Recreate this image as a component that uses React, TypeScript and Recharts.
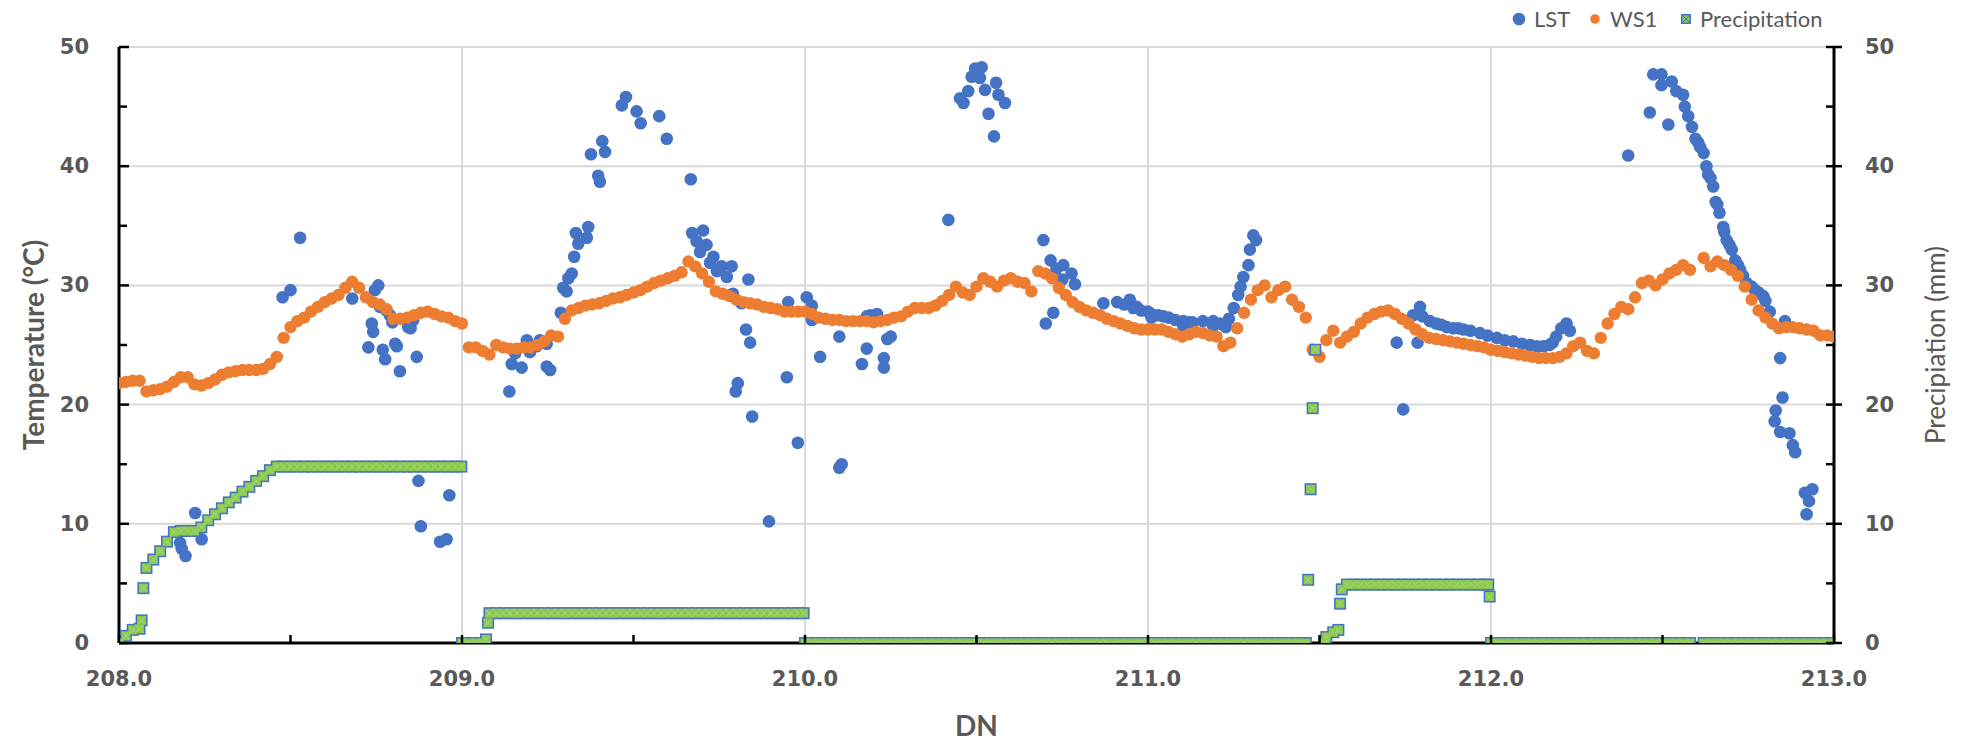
import { CartesianGrid, Legend, Scatter, ScatterChart, XAxis, YAxis } from "recharts";

// WS1 air temperature, one reading every 0.02 day, one array per day
const ws1Day208 = [
  21.8, 21.9, 22.0, 22.0, 21.1, 21.2, 21.3, 21.5, 21.9, 22.3,
  22.3, 21.7, 21.6, 21.8, 22.1, 22.5, 22.7, 22.8, 22.9, 22.9,
  22.9, 23.0, 23.4, 24.0, 25.6, 26.5, 27.0, 27.3, 27.8, 28.2,
  28.6, 28.9, 29.2, 29.8, 30.3, 29.8, 29.0, 28.6, 28.4, 28.0,
  27.2, 27.2, 27.3, 27.5, 27.7, 27.8, 27.6, 27.4, 27.3, 27.0,
];
const ws1Day209 = [
  26.8, 24.8, 24.8, 24.5, 24.2, 25.0, 24.8, 24.7, 24.7, 24.8,
  24.8, 25.0, 25.3, 25.8, 25.7, 27.2, 27.9, 28.1, 28.3, 28.4,
  28.5, 28.7, 28.9, 29.0, 29.2, 29.4, 29.6, 29.9, 30.2, 30.4,
  30.6, 30.8, 31.1, 32.0, 31.6, 31.0, 30.3, 29.5, 29.3, 29.1,
  28.8, 28.6, 28.5, 28.4, 28.2, 28.1, 28.0, 27.8, 27.8, 27.8,
];
const ws1Day210 = [
  27.8, 27.6, 27.3, 27.2, 27.1, 27.1, 27.0, 27.0, 27.0, 27.0,
  26.9, 27.0, 27.1, 27.3, 27.4, 27.8, 28.1, 28.1, 28.1, 28.3,
  28.7, 29.2, 29.9, 29.4, 29.2, 29.9, 30.6, 30.3, 29.9, 30.4,
  30.6, 30.3, 30.2, 29.5, 31.2, 31.0, 30.6, 29.8, 29.2, 28.6,
  28.2, 27.9, 27.7, 27.5, 27.2, 27.0, 26.8, 26.6, 26.4, 26.3,
];
const ws1Day211 = [
  26.3, 26.3, 26.3, 26.1, 25.9, 25.7, 25.9, 26.1, 26.0, 25.8,
  25.7, 24.9, 25.2, 26.4, 27.7, 28.8, 29.6, 30.0, 29.0, 29.6,
  29.9, 28.8, 28.2, 27.3, 24.6, 24.0, 25.4, 26.2, 25.2, 25.7,
  26.1, 26.8, 27.3, 27.6, 27.8, 27.9, 27.6, 27.2, 26.8, 26.3,
  25.9, 25.6, 25.5, 25.4, 25.3, 25.2, 25.1, 25.0, 24.9, 24.8,
];
const ws1Day212 = [
  24.6, 24.5, 24.4, 24.3, 24.2, 24.1, 24.0, 23.9, 23.9, 23.9,
  24.0, 24.3, 24.9, 25.2, 24.5, 24.3, 25.6, 26.8, 27.6, 28.2,
  28.0, 29.0, 30.2, 30.4, 30.0, 30.5, 31.0, 31.3, 31.7, 31.3,
  null, 32.3, 31.6, 32.0, 31.7, 31.3, 30.8, 29.9, 28.8, 27.9,
  27.3, 26.8, 26.4, 26.5, 26.5, 26.4, 26.3, 26.2, 25.8, 25.8,
];
const ws1Last = 25.7;

// cumulative precipitation (mm), same 0.02 day grid
const precipDay208 = [
  0, 0.6, 1.1, 1.2, 6.3, 7.0, 7.7, 8.5, 9.3, 9.4,
  9.4, 9.4, 9.7, 10.3, 10.8, 11.3, 11.8, 12.2, 12.7, 13.1,
  13.6, 14.0, 14.5, 14.8, 14.8, 14.8, 14.8, 14.8, 14.8, 14.8,
  14.8, 14.8, 14.8, 14.8, 14.8, 14.8, 14.8, 14.8, 14.8, 14.8,
  14.8, 14.8, 14.8, 14.8, 14.8, 14.8, 14.8, 14.8, 14.8, 14.8,
];
const precipDay209 = [
  0, 0, 0, 0, 2.5, 2.5, 2.5, 2.5, 2.5, 2.5,
  2.5, 2.5, 2.5, 2.5, 2.5, 2.5, 2.5, 2.5, 2.5, 2.5,
  2.5, 2.5, 2.5, 2.5, 2.5, 2.5, 2.5, 2.5, 2.5, 2.5,
  2.5, 2.5, 2.5, 2.5, 2.5, 2.5, 2.5, 2.5, 2.5, 2.5,
  2.5, 2.5, 2.5, 2.5, 2.5, 2.5, 2.5, 2.5, 2.5, 2.5,
];
const precipDay210 = [
  0, 0, 0, 0, 0, 0, 0, 0, 0, 0,
  0, 0, 0, 0, 0, 0, 0, 0, 0, 0,
  0, 0, 0, 0, 0, 0, 0, 0, 0, 0,
  0, 0, 0, 0, 0, 0, 0, 0, 0, 0,
  0, 0, 0, 0, 0, 0, 0, 0, 0, 0,
];
const precipDay211 = [
  0, 0, 0, 0, 0, 0, 0, 0, 0, 0,
  0, 0, 0, 0, 0, 0, 0, 0, 0, 0,
  0, 0, 0, 0, null, null, 0.5, 0.9, 3.3, 4.9,
  4.9, 4.9, 4.9, 4.9, 4.9, 4.9, 4.9, 4.9, 4.9, 4.9,
  4.9, 4.9, 4.9, 4.9, 4.9, 4.9, 4.9, 4.9, 4.9, 4.9,
];
const precipDay212 = [
  0, 0, 0, 0, 0, 0, 0, 0, 0, 0,
  0, 0, 0, 0, 0, 0, 0, 0, 0, 0,
  0, 0, 0, 0, 0, 0, 0, 0, 0, 0,
  null, 0, 0, 0, 0, 0, 0, 0, 0, 0,
  0, 0, 0, 0, 0, 0, 0, 0, 0, 0,
];
const precipLast = 0;
// readings between grid steps (steps and the shower on day 211)
const precipExtra: [number, number][] = [
  [208.066, 1.9], [208.071, 4.6], [208.998, 14.8], [209.07, 0.3], [209.076, 1.7],
  [209.996, 2.5], [211.467, 5.3], [211.474, 12.9], [211.48, 19.7], [211.488, 24.6],
  [211.516, 0], [211.555, 1.1], [211.565, 4.5], [211.992, 4.9], [211.996, 3.9],
];

// LST readings: [DN, °C]
const lstPoints: [number, number][] = [
  [208.178, 8.4], [208.183, 7.9], [208.194, 7.3], [208.222, 10.9], [208.241, 8.7],
  [208.477, 29.0], [208.5, 29.6], [208.528, 34.0],
  [208.68, 28.9], [208.727, 24.8], [208.737, 26.8], [208.741, 26.1], [208.746, 29.6],
  [208.756, 30.0], [208.761, 28.2], [208.769, 24.6], [208.776, 23.8], [208.78, 27.9],
  [208.79, 27.5], [208.797, 26.9], [208.805, 25.1], [208.81, 24.9], [208.819, 22.8],
  [208.843, 26.5], [208.85, 26.4], [208.852, 27.3], [208.858, 27.1], [208.868, 24.0],
  [208.873, 13.6], [208.88, 9.8], [208.936, 8.5], [208.955, 8.7], [208.963, 12.4],
  [209.138, 21.1], [209.145, 23.4], [209.155, 24.3], [209.174, 23.1], [209.189, 25.4],
  [209.198, 24.4], [209.218, 24.9], [209.227, 25.4], [209.247, 25.1], [209.247, 23.2],
  [209.257, 22.9], [209.288, 27.7], [209.295, 29.8], [209.305, 29.5], [209.31, 30.6],
  [209.32, 31.0], [209.327, 32.4], [209.332, 34.4], [209.339, 33.5], [209.364, 34.0],
  [209.368, 34.9], [209.376, 41.0], [209.397, 39.2], [209.402, 38.7], [209.409, 42.1],
  [209.417, 41.2], [209.466, 45.1], [209.478, 45.8], [209.509, 44.6], [209.521, 43.6],
  [209.575, 44.2], [209.597, 42.3], [209.667, 38.9], [209.671, 34.4], [209.684, 33.7],
  [209.694, 32.8], [209.703, 34.6], [209.713, 33.4], [209.723, 31.9], [209.733, 32.4],
  [209.743, 31.2], [209.757, 31.6], [209.772, 30.7], [209.786, 31.6], [209.79, 29.3],
  [209.798, 21.1], [209.804, 21.8], [209.815, 28.5], [209.828, 26.3], [209.835, 30.5],
  [209.84, 25.2], [209.846, 19.0], [209.895, 10.2], [209.947, 22.3], [209.951, 28.6],
  [209.979, 16.8],
  [210.005, 29.0], [210.02, 28.3], [210.02, 27.1], [210.044, 24.0], [210.1, 25.7],
  [210.1, 14.7], [210.107, 15.0], [210.166, 23.4], [210.18, 24.7], [210.18, 27.4],
  [210.19, 27.5], [210.2, 27.4], [210.21, 27.6], [210.23, 23.9], [210.23, 23.1],
  [210.24, 25.5], [210.25, 25.7],
  [210.418, 35.5], [210.452, 45.7], [210.462, 45.3], [210.476, 46.3], [210.486, 47.5],
  [210.496, 48.2], [210.51, 47.4], [210.515, 48.3], [210.525, 46.4], [210.535, 44.4],
  [210.551, 42.5], [210.557, 47.0], [210.564, 46.0], [210.583, 45.3],
  [210.695, 33.8], [210.702, 26.8], [210.716, 32.1], [210.724, 27.7], [210.733, 31.4],
  [210.75, 30.5], [210.753, 31.7], [210.777, 31.0], [210.787, 30.1],
  [210.87, 28.5], [210.91, 28.6], [210.93, 28.4], [210.947, 28.8], [210.957, 28.1],
  [210.967, 28.2], [210.98, 27.9], [211.0, 27.8],
  [211.01, 27.6], [211.01, 27.3], [211.03, 27.5], [211.045, 27.4], [211.06, 27.3],
  [211.08, 27.1], [211.103, 27.0], [211.103, 26.6], [211.12, 26.9], [211.13, 26.9],
  [211.16, 27.0], [211.19, 27.0], [211.19, 26.6], [211.21, 26.8], [211.22, 26.7],
  [211.227, 26.5], [211.236, 27.2], [211.25, 28.1], [211.263, 29.2], [211.27, 29.9],
  [211.278, 30.7], [211.293, 31.7], [211.297, 33.0], [211.307, 34.2], [211.315, 33.8],
  [211.725, 25.2], [211.744, 19.6], [211.773, 27.5], [211.786, 25.2], [211.793, 28.2],
  [211.8, 27.4], [211.822, 27.0], [211.84, 26.8], [211.855, 26.7], [211.871, 26.5],
  [211.89, 26.4], [211.905, 26.4], [211.92, 26.3], [211.94, 26.2], [211.968, 26.0],
  [211.99, 25.8],
  [212.017, 25.6], [212.04, 25.4], [212.065, 25.3], [212.09, 25.1], [212.114, 25.0],
  [212.135, 24.9], [212.153, 24.9], [212.17, 25.0], [212.18, 25.2], [212.19, 25.7],
  [212.205, 26.4], [212.22, 26.8], [212.23, 26.2],
  [212.4, 40.9], [212.463, 44.5], [212.473, 47.7], [212.497, 47.7], [212.497, 46.8],
  [212.517, 43.5], [212.527, 47.1], [212.54, 46.3], [212.56, 46.0], [212.565, 45.0],
  [212.575, 44.2], [212.586, 43.3], [212.596, 42.3], [212.604, 42.0], [212.61, 41.6],
  [212.62, 41.1], [212.628, 40.0], [212.633, 39.3], [212.64, 39.0], [212.648, 38.3],
  [212.655, 37.0], [212.66, 36.8], [212.666, 36.1], [212.677, 34.9], [212.68, 34.5],
  [212.687, 33.8], [212.695, 33.4], [212.702, 33.0], [212.712, 32.1], [212.72, 31.7],
  [212.726, 31.3], [212.735, 30.8], [212.745, 30.2], [212.76, 29.9], [212.77, 29.6],
  [212.78, 29.4], [212.794, 29.1], [212.8, 28.7], [212.813, 27.8], [212.857, 27.0],
  [212.843, 23.9], [212.85, 20.6], [212.83, 19.5], [212.827, 18.6], [212.843, 17.7],
  [212.87, 17.6], [212.88, 16.6], [212.887, 16.0], [212.915, 12.6], [212.937, 12.9],
  [212.927, 11.9], [212.92, 10.8],
];

const FIRST_DAY = 208;
const STEP = 0.02;
const X_TICKS = [208, 208.5, 209, 209.5, 210, 210.5, 211, 211.5, 212, 212.5, 213];
const Y_TICKS = [0, 5, 10, 15, 20, 25, 30, 35, 40, 45, 50];

const GREY = "#595959";
const TICK_FONT = "'DejaVu Sans', Verdana, sans-serif";
const TITLE_FONT = "Lato, 'Open Sans', sans-serif";

type Pt = { x: number; y: number };

function onGrid(days: (number | null)[][], last: number): Pt[] {
  const out: Pt[] = [];
  days.forEach((vals, d) =>
    vals.forEach((v, i) => {
      if (v !== null) out.push({ x: +(FIRST_DAY + d + i * STEP).toFixed(2), y: v });
    })
  );
  out.push({ x: FIRST_DAY + days.length, y: last });
  return out;
}

const ws1Data = onGrid([ws1Day208, ws1Day209, ws1Day210, ws1Day211, ws1Day212], ws1Last);
const precipData = [
  ...onGrid([precipDay208, precipDay209, precipDay210, precipDay211, precipDay212], precipLast),
  ...precipExtra.map(([x, y]) => ({ x, y })),
];
const lstData = lstPoints.map(([x, y]) => ({ x, y }));

function XTick({ x, y, payload }: any) {
  const v = payload.value as number;
  const major = Number.isInteger(v);
  return (
    <g>
      <line x1={x} x2={x} y1={y} y2={y - 8} stroke="#000" strokeWidth={2.5} />
      {major && (
        <text x={x} y={y + 36} textAnchor="middle" dominantBaseline="central"
          fontFamily={TICK_FONT} fontWeight="bold" fontSize={21} fill={GREY}>
          {v.toFixed(1)}
        </text>
      )}
    </g>
  );
}

function LeftTick({ x, y, payload }: any) {
  const v = payload.value as number;
  const major = v % 10 === 0;
  return (
    <g>
      <line x1={x} x2={x + (major ? 10 : 8)} y1={y} y2={y} stroke="#000" strokeWidth={2.5} />
      {major && (
        <text x={x - 30} y={y} textAnchor="end" dominantBaseline="central"
          fontFamily={TICK_FONT} fontWeight="bold" fontSize={21} fill={GREY}>
          {v}
        </text>
      )}
    </g>
  );
}

function RightTick({ x, y, payload }: any) {
  const v = payload.value as number;
  const major = v % 10 === 0;
  return (
    <g>
      <line x1={x - 8} x2={major ? x + 8 : x} y1={y} y2={y} stroke="#000" strokeWidth={2.5} />
      {major && (
        <text x={x + 31} y={y} textAnchor="start" dominantBaseline="central"
          fontFamily={TICK_FONT} fontWeight="bold" fontSize={21} fill={GREY}>
          {v}
        </text>
      )}
    </g>
  );
}

const lstDot = (p: any) => <circle cx={p.cx} cy={p.cy} r={6.3} fill="#4472C4" />;
const ws1Dot = (p: any) => <circle cx={p.cx} cy={p.cy} r={6.2} fill="#ED7D31" />;

// precipitation marker drawn in two layers so that a run of markers reads as one band
const precipEdge = (p: any) => (
  <rect x={p.cx - 6} y={p.cy - 6} width={12} height={12} fill="#4472C4" />
);
const precipFill = (p: any) => (
  <g>
    <rect x={p.cx - 4.5} y={p.cy - 4.5} width={9} height={9} fill="#8CC94F" />
    <path d={`M${p.cx - 3.5},${p.cy - 3.5}L${p.cx + 3.5},${p.cy + 3.5}M${p.cx + 3.5},${p.cy - 3.5}L${p.cx - 3.5},${p.cy + 3.5}`}
      stroke="#A9D97A" strokeWidth={1} />
  </g>
);

function LegendBox() {
  const label = { position: "absolute" as const, top: 0, lineHeight: "22px", fontSize: 22, color: GREY, fontFamily: TITLE_FONT };
  return (
    <div style={{ position: "relative", width: 340, height: 24 }}>
      <svg width={200} height={24} style={{ position: "absolute", left: 0, top: 0 }}>
        <circle cx={11} cy={11} r={6.3} fill="#4472C4" />
        <circle cx={87} cy={11} r={4.8} fill="#ED7D31" />
        <rect x={173} y={6} width={10} height={10} fill="#4472C4" />
        <rect x={174.5} y={7.5} width={7} height={7} fill="#8CC94F" />
        <path d="M175,8L181,14M181,8L175,14" stroke="#4472C4" strokeWidth={1} />
      </svg>
      <span style={{ ...label, left: 26 }}>LST</span>
      <span style={{ ...label, left: 102 }}>WS1</span>
      <span style={{ ...label, left: 192 }}>Precipitation</span>
    </div>
  );
}

const leftTitle = ({ viewBox }: any) => {
  const cx = viewBox.x - 6;
  const cy = viewBox.y + viewBox.height / 2;
  return (
    <text x={cx} y={cy} transform={`rotate(-90, ${cx}, ${cy})`} textAnchor="middle" dominantBaseline="central"
      fontFamily={TITLE_FONT} fontWeight="bold" fontSize={28} fill={GREY}>
      Temperature (°C)
    </text>
  );
};

const rightTitle = ({ viewBox }: any) => {
  const cx = viewBox.x + viewBox.width + 1;
  const cy = viewBox.y + viewBox.height / 2;
  return (
    <text x={cx} y={cy} transform={`rotate(-90, ${cx}, ${cy})`} textAnchor="middle" dominantBaseline="central"
      fontFamily={TITLE_FONT} fontSize={26} fill={GREY}>
      Precipiation (mm)
    </text>
  );
};

const bottomTitle = ({ viewBox }: any) => (
  <text x={viewBox.x + viewBox.width / 2} y={viewBox.y + 82} textAnchor="middle" dominantBaseline="central"
    fontFamily={TITLE_FONT} fontWeight="bold" fontSize={28} fill={GREY}>
    DN
  </text>
);

export default function App() {
  return (
    <div style={{ width: 1954, height: 736, fontFamily: TITLE_FONT }}>
      <ScatterChart width={1954} height={736} margin={{ top: 39, right: 28, bottom: 41, left: 31 }}>
        <CartesianGrid yAxisId="t" stroke="#D9D9D9" strokeWidth={2}
          horizontalValues={[10, 20, 30, 40, 50]} verticalValues={[209, 210, 211, 212]} />
        <XAxis type="number" dataKey="x" domain={[208, 213]} ticks={X_TICKS} interval={0}
          tick={XTick} tickLine={false} tickSize={0} tickMargin={0} height={60}
          axisLine={{ stroke: "#000", strokeWidth: 3 }} label={bottomTitle} allowDataOverflow />
        <YAxis yAxisId="t" type="number" dataKey="y" domain={[0, 50]} ticks={Y_TICKS} interval={0}
          tick={LeftTick} tickLine={false} tickSize={0} tickMargin={0} width={80}
          axisLine={{ stroke: "#000", strokeWidth: 3 }} label={leftTitle} allowDataOverflow />
        <YAxis yAxisId="p" orientation="right" type="number" dataKey="y" domain={[0, 50]} ticks={Y_TICKS} interval={0}
          tick={RightTick} tickLine={false} tickSize={0} tickMargin={0} width={100}
          axisLine={{ stroke: "#000", strokeWidth: 3 }} label={rightTitle} allowDataOverflow />
        <Legend layout="horizontal" align="center" verticalAlign="middle"
          wrapperStyle={{ top: 0, left: 1500, width: 340, height: 24 }} content={() => <LegendBox />} />
        <Scatter name="LST" yAxisId="t" data={lstData} shape={lstDot} isAnimationActive={false} />
        <Scatter name="WS1" yAxisId="t" data={ws1Data} shape={ws1Dot} isAnimationActive={false} />
        <Scatter name="Precipitation" yAxisId="p" data={precipData} shape={precipEdge} isAnimationActive={false} />
        <Scatter name="Precipitation fill" yAxisId="p" data={precipData} shape={precipFill}
          legendType="none" isAnimationActive={false} />
      </ScatterChart>
    </div>
  );
}
